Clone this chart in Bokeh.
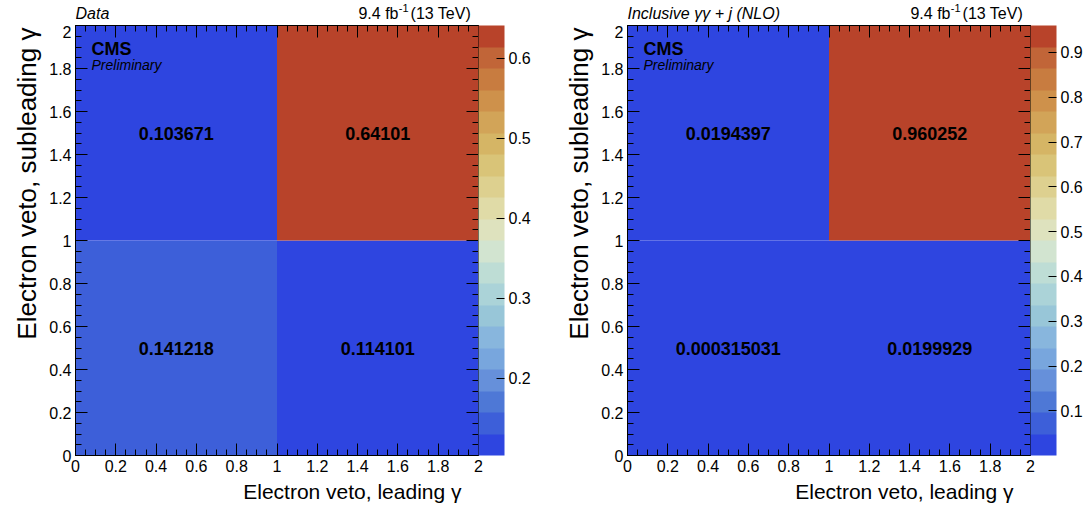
import numpy as np
from bokeh.plotting import figure
from bokeh.models import (ColumnDataSource, LinearColorMapper, ColorBar, LinearAxis,
                          SingleIntervalTicker, FixedTicker, CustomJSTickFormatter, Label,
                          Range1d, Title)
from bokeh.layouts import row, column
from bokeh.core.properties import value
from bokeh.embed import file_html
from bokeh.resources import INLINE

# ---- data ----
x_edges = [0, 1, 2]
y_edges = [0, 1, 2]
# bins listed as (x bin index, y bin index)
bin_ix = [0, 1, 0, 1]
bin_iy = [0, 0, 1, 1]
data_values = [0.141218, 0.114101, 0.103671, 0.64101]
mc_values = [0.000315031, 0.0199929, 0.0194397, 0.960252]
data_cbar_ticks = [0.2, 0.3, 0.4, 0.5, 0.6]
mc_cbar_ticks = [0.1, 0.2, 0.3, 0.4, 0.5, 0.6, 0.7, 0.8, 0.9]
x_title = "Electron veto, leading \u03b3"
y_title = "Electron veto, subleading \u03b3"
data_tag = "Data"
mc_tag = "Inclusive \u03b3\u03b3 + j (NLO)"
lumi_main = "9.4 fb"
lumi_sup = "-1"
lumi_tail = " (13 TeV)"

palette = ["#2E45E0", "#3D5FD9", "#4E78D6", "#6690DA", "#78A6DD",
           "#88B6DD", "#98C6D8", "#ABD3D8", "#BEDDD5", "#D2E4D0",
           "#DEE2BE", "#E0DBA7", "#DDD08F", "#D9C478", "#D5B565",
           "#D2A458", "#CE914B", "#C87C40", "#C16538", "#B8432A"]

FONT = "Liberation Sans"
fmt = CustomJSTickFormatter(code="return String(+tick.toFixed(3));")
blank_fmt = CustomJSTickFormatter(code="return '';")


def style_axis(ax, hide_labels=False):
    ax.ticker = SingleIntervalTicker(interval=0.2, num_minor_ticks=4)
    ax.formatter = fmt
    ax.major_tick_in = 12
    ax.major_tick_out = 0
    ax.minor_tick_in = 6
    ax.minor_tick_out = 0
    ax.axis_line_color = "black"
    ax.major_tick_line_color = "black"
    ax.minor_tick_line_color = "black"
    ax.major_label_text_font = FONT
    ax.major_label_text_font_size = "16px"
    ax.major_label_text_color = "black"
    ax.major_label_standoff = 4
    if hide_labels:
        ax.formatter = blank_fmt
        ax.major_label_standoff = 0


def make_panel(vals, cbar_ticks, tag, left_border, right_border):
    src = ColumnDataSource(dict(
        left=[x_edges[i] for i in bin_ix],
        right=[x_edges[i + 1] for i in bin_ix],
        bottom=[y_edges[j] for j in bin_iy],
        top=[y_edges[j + 1] for j in bin_iy],
        xc=[(x_edges[i] + x_edges[i + 1]) / 2 for i in bin_ix],
        yc=[(y_edges[j] + y_edges[j + 1]) / 2 for j in bin_iy],
        z=vals,
        label=["%g" % v for v in vals],
    ))
    mapper = LinearColorMapper(palette=palette, low=min(vals), high=max(vals))
    xr = Range1d(x_edges[0], x_edges[-1])

    # header strip with the tag and luminosity text
    h = figure(title=None, frame_width=403, frame_height=25, x_range=xr, y_range=Range1d(0, 1),
               output_backend="svg", toolbar_location=None,
               min_border_left=left_border, min_border_right=right_border,
               min_border_top=0, min_border_bottom=0,
               x_axis_location=None, y_axis_location=None)
    h.grid.visible = False
    h.outline_line_color = None
    h.text(x=[x_edges[0]], y=[0.5], text=[tag], text_font=value(FONT),
           text_font_style="italic", text_font_size="16px", text_color="black",
           text_align="left", text_baseline="middle")
    h.text(x=[x_edges[-1]], y=[0.5], text=[lumi_tail], x_offset=-3, text_font=value(FONT),
           text_font_size="16px", text_color="black",
           text_align="right", text_baseline="middle")
    h.text(x=[x_edges[-1]], y=[0.72], text=[lumi_sup], x_offset=-70, text_font=value(FONT),
           text_font_size="11px", text_color="black",
           text_align="right", text_baseline="middle")
    h.text(x=[x_edges[-1]], y=[0.5], text=[lumi_main], x_offset=-80, text_font=value(FONT),
           text_font_size="16px", text_color="black",
           text_align="right", text_baseline="middle")

    p = figure(title=None, frame_width=403, frame_height=430,
               x_range=xr, y_range=Range1d(y_edges[0], y_edges[-1]),
               output_backend="svg", toolbar_location=None,
               min_border_left=left_border, min_border_right=right_border,
               min_border_top=0, min_border_bottom=54)
    p.grid.visible = False
    p.outline_line_color = "black"
    p.outline_line_width = 1
    p.background_fill_color = "white"
    p.border_fill_color = "white"
    p.quad(left="left", right="right", bottom="bottom", top="top", source=src,
           fill_color={"field": "z", "transform": mapper}, line_color=None)
    p.text(x="xc", y="yc", text="label", source=src, text_align="center",
           text_baseline="middle", text_font=value(FONT), text_font_style="bold",
           text_font_size="18px", text_color="black")
    style_axis(p.xaxis[0])
    style_axis(p.yaxis[0])
    top_ax = LinearAxis()
    style_axis(top_ax, True)
    p.add_layout(top_ax, "above")
    right_ax = LinearAxis()
    style_axis(right_ax, True)
    p.add_layout(right_ax, "right")

    cb = ColorBar(color_mapper=mapper, ticker=FixedTicker(ticks=cbar_ticks),
                  formatter=fmt, width=26, height=430, padding=0, margin=4,
                  label_standoff=4, major_tick_in=8, major_tick_out=0,
                  major_tick_line_color="black", minor_tick_line_color=None,
                  bar_line_color=None, border_line_color=None,
                  background_fill_alpha=0,
                  major_label_text_font=FONT, major_label_text_font_size="16px",
                  major_label_text_color="black")
    p.add_layout(cb, "right")

    p.add_layout(Label(x=x_edges[0], y=y_edges[-1], x_offset=16, y_offset=-23, text="CMS",
                       text_font=FONT, text_font_style="bold", text_font_size="18px",
                       text_color="black", text_align="left", text_baseline="alphabetic"))
    p.add_layout(Label(x=x_edges[0], y=y_edges[-1], x_offset=16, y_offset=-39, text="Preliminary",
                       text_font=FONT, text_font_style="italic", text_font_size="14px",
                       text_color="black", text_align="left", text_baseline="alphabetic"))
    p.add_layout(Title(text=x_title, align="right", offset=17, standoff=7, text_font=FONT,
                       text_font_size="21px", text_font_style="normal", text_color="black"),
                 "below")
    p.add_layout(Title(text=y_title, align="right", offset=2, standoff=10, text_font=FONT,
                       text_font_size="26px", text_font_style="normal", text_color="black"),
                 "left")
    return column(h, p, spacing=0)


p1 = make_panel(data_values, data_cbar_ticks, data_tag, 75, 66)
p2 = make_panel(mc_values, mc_cbar_ticks, mc_tag, 83, 57)
layout = row(p1, p2, spacing=0)
open("out.html", "w").write(file_html(layout, INLINE))
